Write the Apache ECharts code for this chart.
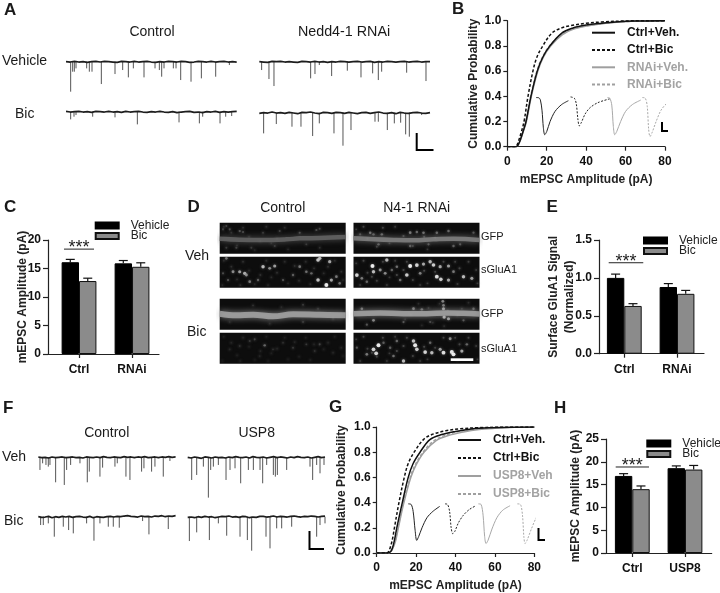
<!DOCTYPE html>
<html><head><meta charset="utf-8">
<style>html,body{margin:0;padding:0;background:#fff}#c{width:720px;height:593px}#c canvas{filter:blur(.4px)}</style>
<script src="https://cdn.jsdelivr.net/npm/echarts@6/dist/echarts.min.js"></script>
</head><body><div id="c"></div>
<script>
const FONT='"Liberation Sans",Arial,sans-serif';
// ---------- CDF panel B
const bCtrlVeh=[[0,0],[4.5,0],[5.5,.015],[6.5,.05],[8,.12],[9.5,.2],[12,.4],[15.2,.6],[18,.71],[21.6,.8],[27.5,.9],[33,.94],[40,.965],[48,.98],[55,.99],[65,.997],[80,1]];
const bCtrlBic=[[0,0],[4,0],[5,.015],[6,.06],[7,.11],[8.5,.2],[10.5,.4],[13,.6],[15,.71],[18,.8],[22.5,.9],[27,.94],[32,.96],[40,.98],[48,.99],[60,.998],[80,1]];
const bRnaiVeh=[[0,0],[4.5,0],[5.5,.015],[6.5,.045],[8,.115],[9.7,.2],[12.2,.4],[15.5,.6],[18.3,.71],[22,.8],[28,.89],[34,.935],[41,.96],[50,.98],[58,.99],[68,.997],[80,1]];
const bRnaiBic=[[0,0],[4.5,0],[5.5,.015],[6.5,.05],[8,.125],[9.5,.21],[12,.41],[15,.6],[17.8,.71],[21.4,.8],[27.3,.89],[33,.935],[40.5,.96],[49,.98],[57,.99],[67,.997],[80,1]];
// inset waveforms panel B
const bIns1=[[14.6,.39],[16,.388],[16.8,.37],[17.6,.29],[18.3,.15],[19,.095],[20,.12],[21.7,.2],[24.2,.28],[27.6,.335],[31,.365]];
const bIns2=[[32.1,.395],[34,.385],[35,.34],[35.8,.22],[36.5,.165],[37.5,.19],[39.5,.26],[42,.31],[46,.35],[52,.38]];
const bIns3=[[50.8,.39],[52,.385],[53,.33],[53.8,.16],[54.5,.095],[55.5,.12],[57.5,.2],[60,.28],[63.5,.335],[67.7,.37]];
const bIns4=[[68.5,.39],[70,.385],[71,.32],[71.7,.14],[72.4,.08],[73.4,.11],[75.5,.2],[78,.29],[81,.345],[84,.37]];
// ---------- CDF panel G
const gCtrlVeh=[[0,0],[5.5,0],[7,.01],[8,.04],[9,.1],[10.2,.2],[13,.4],[16,.6],[18.5,.71],[22,.8],[27,.9],[33,.94],[40,.965],[48,.985],[58,.995],[68,.999],[80,1]];
const gCtrlBic=[[0,0],[5,0],[6,.01],[7,.05],[8,.11],[9,.2],[11.3,.4],[14,.6],[16,.71],[19,.8],[23.7,.9],[28,.94],[35,.97],[42,.985],[52,.995],[65,1],[80,1]];
const gUspVeh=[[0,0],[5.5,0],[7,.008],[8,.03],[9.5,.09],[11,.2],[13.8,.4],[17.3,.6],[20,.7],[24,.8],[30,.89],[36,.93],[44,.96],[52,.98],[60,.99],[70,.998],[80,1]];
const gUspBic=[[0,0],[5.5,0],[7,.008],[8,.035],[9.3,.09],[10.7,.2],[13.5,.4],[17,.6],[19.6,.7],[23.5,.8],[29,.89],[35,.935],[42,.965],[50,.985],[60,.995],[70,.999],[80,1]];
const gIns1=[[16,.39],[17.5,.385],[18.5,.33],[19.5,.18],[20.3,.1],[21.3,.13],[23,.2],[25.5,.28],[28.5,.33],[32,.37]];
const gIns2=[[34.7,.39],[36,.385],[37,.33],[37.8,.2],[38.6,.153],[39.6,.17],[41.5,.24],[44,.3],[47,.345],[50.3,.375]];
const gIns3=[[51.6,.39],[53,.385],[54,.3],[54.8,.13],[55.5,.075],[56.5,.1],[58.5,.19],[61,.28],[64,.34],[67.7,.375]];
const gIns4=[[71.4,.39],[73,.385],[74,.3],[74.7,.13],[75.3,.075],[76.3,.1],[78.5,.19],[81,.28],[84,.34],[87,.37]];
// ---------- bars: [Ctrl, second group]
const cVehicle=[16.1,15.9], cVehicleErr=[.5,.5], cBic=[12.8,15.3], cBicErr=[.5,.7];
const eVehicle=[1.0,.88], eVehicleErr=[.05,.045], eBic=[.63,.79], eBicErr=[.03,.045];
const hVehicle=[16.9,18.6], hVehicleErr=[.5,.5], hBic=[14.0,18.3], hBicErr=[.7,.9];
const catsRnai=['Ctrl','RNAi'], catsUsp=['Ctrl','USP8'];
// ---------- traces: [time, event depth]
const a1=[[14,90],[20,30],[25,30],[30,20],[62,20],[70,30],[78,30],[106,67],[147,37],[170,25],[187,47],[202,20],[234,47],[267,20],[280,25],[287,45],[294,20],[322,20],[330,20],[344,55],[375,60],[406,50],[449,45],[490,10]];
const a2=[[7,25],[29,52],[44,73],[154,50],[167,37],[180,10],[217,43],[264,27],[305,47],[340,35],[357,55],[367,30],[442,33],[500,58]];
const a3=[[14,23],[24,15],[30,10],[80,15],[147,17],[214,38],[339,32],[400,35],[410,15],[462,35],[479,15],[497,13]];
const a4=[[13,62],[51,34],[98,42],[125,42],[160,70],[180,32],[224,62],[251,99],[275,52],[347,27],[357,27],[384,52],[405,32],[424,30],[439,65],[450,72],[487,7]];
const f1=[[5,38],[13,18],[23,23],[30,28],[35,23],[52,75],[78,83],[85,38],[97,23],[125,18],[147,75],[153,43],[185,58],[193,31],[230,28],[237,18],[263,58],[275,68],[310,43],[317,33],[340,43],[350,28],[375,58],[395,11]];
const f2=[[12,68],[27,53],[47,28],[62,121],[69,38],[77,28],[92,23],[115,68],[127,38],[142,33],[159,78],[182,38],[197,38],[217,38],[225,78],[237,23],[257,53],[263,58],[269,53],[297,38],[367,28],[375,68],[387,23],[397,48],[409,23]];
const f3=[[7,25],[15,25],[30,20],[48,60],[75,30],[91,40],[105,50],[145,20],[167,72],[185,20],[210,30],[225,30],[243,33],[313,13],[332,53],[390,37]];
const f4=[[5,73],[27,47],[65,70],[92,20],[117,57],[157,60],[179,70],[192,102],[235,60],[247,95],[267,35],[282,35],[312,30],[387,60],[397,25],[412,20]];
// baseline drift of each trace, evenly spaced samples
const a1Base=[0,1,-1,1,0,2,0,-1,1,-1,0,1,2,-1,0,1,-1,1,0,-1,1,2,0,1,-1,0,1,-1,0,2,1,-1,0,1,-1,1,0,-1,1,0,1];
const a2Base=[0,1,2,-1,0,-1,1,0,1,2,-1,0,1,-1,1,0,2,0,1,-1,0,1,0,-1,1,0,-1,2,0,1,-1,0,1,0,-1,1,0,-1,1,0,0];
const a3Base=[-1,1,0,-1,1,0,2,-1,0,1,-1,1,0,2,-1,1,0,-1,1,2,0,1,-1,1,2,0,3,1,0,-1,2,1,3,0,1,-1,2,0,1,0,-1];
const a4Base=[2,0,1,-2,1,0,2,-1,1,3,-1,0,-2,1,3,-1,0,2,-1,0,2,-1,1,3,0,-1,2,0,-2,1,2,0,3,-1,1,2,0,-1,1,2,0];
const f1Base=[-1,1,0,2,-1,1,0,-1,1,0,-1,1,0,2,-1,0,1,-1,1,-2,0,1,-1,0,1,-2,0,-1,1,-1,0,-2,1,0,-1,1,-1,0,-2,0,-1];
const f2Base=[0,2,-1,1,3,-1,0,2,-1,1,0,2,-1,1,-2,0,1,-1,2,-2,0,1,-1,2,0,-2,1,-1,0,2,-1,1,-2,0,1,-1,2,0,-2,1,-1];
const f3Base=[0,2,1,-1,3,0,2,-1,1,-1,2,0,-1,1,2,-1,3,0,1,2,0,-1,1,-1,0,-2,-3,-1,0,1,-2,0,-1,1,-2,-1,-3,0,-2,-1,-3];
const f4Base=[2,1,3,0,2,-1,1,0,3,1,-1,0,-2,1,0,2,-1,0,3,1,2,-1,-1,1,0,-2,1,-1,0,1,-1,-2,0,1,-1,0,-2,-1,1,-1,-2];
// ---------- micrographs: [x, y, grey, optional size]
const hazeLeft=[[12,12,45],[35,30,50],[52,68,45],[70,15,50],[88,42,45],[105,82,40],[122,55,50],[140,12,45],[155,62,45],[172,48,50],[195,15,45],[205,80,40],[225,28,50],[238,72,45],[258,15,45],[272,82,45],[283,35,50],[312,50,45],[325,30,50],[345,12,45],[365,45,50],[370,70,40],[8,85,40],[62,85,45],[145,85,40]];
const hazeRight=[[8,20,60],[30,12,70],[42,48,65],[70,72,65],[88,15,70],[108,62,60],[125,12,60],[150,40,75],[178,70,70],[212,42,75],[222,80,60],[245,45,70],[270,15,70],[305,15,65],[318,35,70],[345,15,65],[368,40,60],[372,80,60],[20,85,55],[100,85,55],[200,85,55],[312,82,60],[160,15,70],[55,60,70],[130,55,75]];
const d1Spots=[[30,20,80],[60,25,90],[70,28,80],[130,30,60],[180,25,70],[240,30,80],[290,22,80],[300,18,70],[20,75,60],[50,75,70],[95,75,60],[165,70,60],[260,65,60],[300,75,50],[10,20,70],[20,10,70]];
const d2Spots=[[20,5,120],[40,45,150],[60,45,170],[75,50,190],[80,55,150],[130,30,200],[150,35,150],[165,28,170],[115,70,100],[240,30,130],[260,45,120],[295,10,220],[300,5,200],[330,15,180],[295,70,210],[320,85,255],[335,70,180],[350,60,130],[360,80,120],[90,75,130],[25,70,90],[220,55,100],[10,50,80],[190,70,90],[275,50,110]];
const d3Spots=[[100,20,50],[185,25,40],[250,18,60],[295,30,50],[250,70,60],[30,70,40],[150,75,40],[340,60,40]];
const d4Spots=[[105,20,70],[135,38,110],[90,25,60],[60,40,50],[160,50,50],[220,45,60],[260,35,60],[300,35,70],[30,50,40],[190,30,50],[120,70,40],[340,60,40],[285,55,50]];
const d5Spots=[[50,30,120],[60,35,100],[85,35,110],[170,30,130],[190,28,110],[210,30,120],[250,30,110],[285,25,110],[75,65,100],[170,70,100],[225,65,90],[300,70,100],[320,65,90],[360,30,90],[20,35,80]];
const d6Spots=[[10,55,230],[25,65,130],[57,28,255],[60,45,200],[80,40,160],[100,10,200],[95,50,150],[130,30,120],[160,55,220],[170,28,255],[190,25,230],[210,22,180],[230,15,200],[240,25,220],[260,30,180],[285,28,170],[250,60,240],[262,68,220],[285,70,180],[330,60,200],[355,65,170],[140,70,120],[40,75,110],[300,45,130],[115,40,110],[200,50,140]];
const d7Spots=[[25,30,120],[60,65,140],[40,78,90],[180,30,130],[205,32,110],[270,20,130],[285,60,170],[150,70,90],[230,70,80],[330,65,90],[360,30,100],[268,8,140],[270,30,170],[272,55,190]];
const d8Spots=[[60,50,230],[75,38,255],[68,62,230],[180,25,210],[185,38,255],[190,50,220],[215,58,230],[235,60,200],[260,50,170],[270,60,240],[295,58,255],[300,65,250],[325,55,180],[150,85,200],[40,65,130],[130,25,110],[90,30,100],[110,45,100],[230,30,110],[340,35,110],[290,18,150],[10,45,90],[120,70,120]];
// dendrite centre lines [x, y]
const d1Dend=[[0,48],[60,51],[130,52],[200,50],[240,47],[300,46],[378,43]];
const d3Dend=[[0,45],[50,50],[100,48],[160,53],[220,47],[300,48],[378,50]];
const d5Dend=[[0,47],[60,50],[120,52],[180,53],[240,50],[300,48],[378,52]];
const d7Dend=[[0,45],[80,43],[150,45],[220,45],[280,43],[330,44],[378,46]];

const grid=[],xAxis=[],yAxis=[],series=[];
function addGrid(g,x,y){grid.push(g);x.gridIndex=y.gridIndex=grid.length-1;xAxis.push(x);yAxis.push(y);return grid.length-1;}
const hid={show:false};
function hiddenAxes(xmin,xmax,ymin,ymax,inv){return [
 {type:'value',min:xmin,max:xmax,show:false,splitLine:hid},
 {type:'value',min:ymin,max:ymax,inverse:!!inv,show:false,splitLine:hid}];}
function addTrace(left,top,pxW,tMax,events,base){
 const [x,y]=hiddenAxes(0,tMax,-10,125,true);
 const g=addGrid({left,top:top-10/3,width:pxW,height:45},x,y);
 series.push({type:'custom',xAxisIndex:g,yAxisIndex:g,silent:true,clip:false,data:events,
  renderItem:(p,api)=>{const t=api.value(0),a=api.coord([t,0]),b=api.coord([t,api.value(1)]);
   return {type:'line',shape:{x1:a[0],y1:a[1],x2:b[0],y2:b[1]},style:{stroke:'#555',lineWidth:1}};}});
 const step=tMax/(base.length-1);
 series.push({type:'line',xAxisIndex:g,yAxisIndex:g,symbol:'none',silent:true,clip:false,
  data:base.map((v,i)=>[i*step,v]),lineStyle:{color:'#1d1d1d',width:1.7}});
}
addTrace(66,61.7,170.7,512,a1,a1Base);
addTrace(259.3,61.7,170.7,512,a2,a2Base);
addTrace(66,111.7,170.7,512,a3,a3Base);
addTrace(259.3,112.7,170.7,512,a4,a4Base);
addTrace(38.3,457.3,137.3,412,f1,f1Base);
addTrace(187.7,457.3,137.3,412,f2,f2Base);
addTrace(38.3,516.7,137.3,412,f3,f3Base);
addTrace(187.7,516.7,137.3,412,f4,f4Base);

function addMicro(left,top,spots,dend,dendGrey,dendW){
 const [x,y]=hiddenAxes(0,378,0,93,true);
 const g=addGrid({left,top,width:126,height:31,show:true,backgroundColor:'#0d0d0d',borderWidth:0},x,y);
 if(dend){const c=`rgb(${dendGrey},${dendGrey},${dendGrey})`;
  series.push({type:'line',xAxisIndex:g,yAxisIndex:g,symbol:'none',smooth:.4,silent:true,data:dend,
   lineStyle:{color:c,width:dendW,opacity:.8,shadowBlur:6,shadowColor:c}});}
 series.push({type:'scatter',xAxisIndex:g,yAxisIndex:g,silent:true,data:spots,
   symbolSize:v=>1.3+v[2]/95,
   itemStyle:{color:p=>{const c=p.value[2];return `rgb(${c},${c},${c})`;},opacity:.9,shadowBlur:3,shadowColor:'rgba(150,150,150,.7)'}});
}
addMicro(219.7,222.7,hazeLeft.slice(0,12).concat(d1Spots),d1Dend,105,4.5);
addMicro(219.7,256.7,hazeLeft.concat(d2Spots));
addMicro(219.7,298.7,d3Spots,d3Dend,170,6);
addMicro(219.7,332.7,hazeLeft.map(p=>[p[0],p[1],p[2]-12]).concat(d4Spots));
addMicro(353.5,222.7,hazeRight.slice(0,12).concat(d5Spots),d5Dend,135,4.5);
addMicro(353.5,256.7,hazeRight.concat(d6Spots));
addMicro(353.5,298.7,hazeLeft.slice(8,20).concat(d7Spots),d7Dend,170,5.5);
addMicro(353.5,332.7,hazeRight.concat(d8Spots));

const axisLine={show:true,onZero:false,lineStyle:{color:'#222',width:1.2}};
const axLabel={color:'#111',fontFamily:FONT,fontWeight:'bold',fontSize:12};
const nameSt={color:'#222',fontFamily:FONT,fontWeight:'bold',fontSize:12};
const BLACK='#111',GREY='#9f9f9f';

function addCdf(left,top,width,height,curves,insets,nameGapY){
 const g=addGrid({left,top,width,height},
  {type:'value',min:0,max:80,interval:20,axisLine,axisTick:{length:4,lineStyle:{color:'#222',width:1.2}},axisLabel:{...axLabel,margin:9},splitLine:hid,
   name:'mEPSC Amplitude (pA)',nameLocation:'middle',nameGap:27,nameMoveOverlap:false,nameTextStyle:nameSt},
  {type:'value',min:0,max:1,interval:.2,axisLine,axisTick:{length:4,lineStyle:{color:'#222',width:1.2}},axisLabel:{...axLabel,margin:6,formatter:v=>v.toFixed(1)},splitLine:hid,
   name:'Cumulative Probability',nameLocation:'middle',nameGap:nameGapY,nameMoveOverlap:false,nameTextStyle:nameSt});
 curves.forEach(c=>series.push({type:'line',name:c.name,xAxisIndex:g,yAxisIndex:g,symbol:'none',smooth:.35,silent:true,data:c.data,z:c.color===BLACK?4:3,
   lineStyle:{color:c.color,width:1.5,type:c.dash?[3,2]:'solid'},itemStyle:{color:c.color}}));
 insets.forEach((d,i)=>series.push({type:'line',xAxisIndex:g,yAxisIndex:g,symbol:'none',smooth:.3,clip:false,silent:true,data:d,
   lineStyle:{color:i<2?'#222':'#a8a8a8',width:1,type:i%2?[2,1.5]:'solid'}}));
}
addCdf(507.3,20.7,157.7,126,[
 {name:'RNAi+Veh.',data:bRnaiVeh,color:GREY},{name:'RNAi+Bic',data:bRnaiBic,color:GREY,dash:1},
 {name:'Ctrl+Veh.',data:bCtrlVeh,color:BLACK},{name:'Ctrl+Bic',data:bCtrlBic,color:BLACK,dash:1}],[bIns1,bIns2,bIns3,bIns4],28);
addCdf(376.7,427,157.6,126.3,[
 {name:'USP8+Veh',data:gUspVeh,color:GREY},{name:'USP8+Bic',data:gUspBic,color:GREY,dash:1},
 {name:'Ctrl+Veh.',data:gCtrlVeh,color:BLACK},{name:'Ctrl+Bic',data:gCtrlBic,color:BLACK,dash:1}],[gIns1,gIns2,gIns3,gIns4],28.7);

function addBars(o){
 const g=addGrid({left:o.left,top:o.top,width:o.width,height:o.height},
  {type:'value',min:o.xmin,max:o.xmax,axisLine,splitLine:hid,
   axisTick:{show:true,length:4,customValues:[0,1],lineStyle:{color:'#222',width:1.2}},
   axisLabel:{...axLabel,margin:9.5,customValues:[0,1],formatter:v=>o.cats[v]}},
  {type:'value',min:0,max:o.ymax,interval:o.step,axisLine,splitLine:hid,
   axisTick:{length:5,lineStyle:{color:'#222',width:1.2}},
   axisLabel:{...axLabel,margin:7,formatter:v=>o.dec?v.toFixed(1):String(v)},
   name:o.yname,nameLocation:'middle',nameGap:o.nameGap,nameMoveOverlap:false,nameTextStyle:{...nameSt,lineHeight:16}});
 const common={type:'bar',xAxisIndex:g,yAxisIndex:g,barWidth:17.4,barGap:'0%',silent:true};
 series.push({...common,name:'Vehicle',data:o.veh.map((v,i)=>[i,v]),itemStyle:{color:'#000',borderColor:'#000',borderWidth:1},z:3});
 series.push({...common,name:'Bic',data:o.bic.map((v,i)=>[i,v]),itemStyle:{color:'#8b8b8b',borderColor:'#111',borderWidth:1},z:3});
 const off=8.7/52.8;
 const errs=[...o.veh.map((v,i)=>[i-off,v,o.vehErr[i]]),...o.bic.map((v,i)=>[i+off,v,o.bicErr[i]])];
 series.push({type:'custom',xAxisIndex:g,yAxisIndex:g,silent:true,data:errs,z:2,
  renderItem:(p,api)=>{const x=api.value(0),a=api.coord([x,api.value(1)]),b=api.coord([x,api.value(1)+api.value(2)]);
   return {type:'group',children:[
    {type:'line',shape:{x1:a[0],y1:a[1],x2:b[0],y2:b[1]},style:{stroke:'#111',lineWidth:1.2}},
    {type:'line',shape:{x1:b[0]-4.5,y1:b[1],x2:b[0]+4.5,y2:b[1]},style:{stroke:'#111',lineWidth:1.2}}]};}});
 // significance bracket
 series.push({type:'custom',xAxisIndex:g,yAxisIndex:g,silent:true,data:[o.sig],
  renderItem:(p,api)=>{const a=api.coord([api.value(0),api.value(2)]),b=api.coord([api.value(1),api.value(2)]);
   return {type:'group',children:[
    {type:'line',shape:{x1:a[0],y1:a[1],x2:b[0],y2:b[1]},style:{stroke:'#222',lineWidth:1}},
    {type:'text',style:{text:'***',x:(a[0]+b[0])/2,y:a[1]+8,textAlign:'center',textVerticalAlign:'bottom',fontFamily:FONT,fontSize:18,fill:'#222'}}]};}});
}
addBars({left:48,top:240,width:111,height:114,xmin:-.585,xmax:1.509,ymax:20,step:5,cats:catsRnai,veh:cVehicle,vehErr:cVehicleErr,bic:cBic,bicErr:cBicErr,sig:[-.283,.283,18.4],yname:'mEPSC Amplitude (pA)',nameGap:17});
addBars({left:599,top:240,width:105,height:113.7,xmin:-.48,xmax:1.512,ymax:1.5,step:.5,dec:true,cats:catsRnai,veh:eVehicle,vehErr:eVehicleErr,bic:eBic,bicErr:eBicErr,sig:[-.296,.36,1.2],yname:'Surface GluA1 Signal\n(Normalized)',nameGap:21});
addBars({left:606,top:439,width:105.7,height:114,xmin:-.499,xmax:1.507,ymax:25,step:5,cats:catsUsp,veh:hVehicle,vehErr:hVehicleErr,bic:hBic,bicErr:hBicErr,sig:[-.315,.317,18.86],yname:'mEPSC Amplitude (pA)',nameGap:22});

// legends
const legBase={orient:'vertical',selectedMode:false,itemWidth:23,align:'left',padding:0};
const barLeg=(left,top)=>({...legBase,left,top,data:['Vehicle','Bic'],itemHeight:6,itemGap:-1.5,icon:'rect',
  textStyle:{fontFamily:FONT,fontSize:12,color:'#222',padding:[0,0,0,7]}});
const lineLeg=(left,top,names,gap)=>({...legBase,left,top,itemHeight:10,itemGap:gap,itemStyle:{opacity:0},
  data:names.map((n,i)=>({name:n,textStyle:{color:i<2?'#111':'#a3a3a3'}})),
  textStyle:{fontFamily:FONT,fontSize:12,fontWeight:'bold',padding:[0,0,0,7]}});
const legend=[barLeg(94.7,219.5),barLeg(643,234.5),barLeg(646.3,437.5),
  lineLeg(591,26.7,['Ctrl+Veh.','Ctrl+Bic','RNAi+Veh.','RNAi+Bic'],5.3),
  lineLeg(457,434,['Ctrl+Veh.','Ctrl+Bic','USP8+Veh','USP8+Bic'],6)];

// texts: [text, x, y, align, size, weight]
const labels=[
 ['A',4,10,'left',17,'bold'],['B',452,9,'left',17,'bold'],['C',4,207.7,'left',17,'bold'],['D',187.5,207.7,'left',17,'bold'],
 ['E',546.5,207.7,'left',17,'bold'],['F',3,408,'left',17,'bold'],['G',329,407.7,'left',17,'bold'],['H',554,408,'left',17,'bold'],
 ['Control',152,32,'center',14],['Nedd4-1 RNAi',344,32,'center',14.3],['Vehicle',2,61,'left',14],['Bic',15,114,'left',14],
 ['Control',282.7,207.7,'center',14],['N4-1 RNAi',416.7,207.7,'center',14],['Veh',185,255.7,'left',14],['Bic',187,332,'left',14],
 ['GFP',481,237,'left',11],['sGluA1',481,270,'left',11],['GFP',481,314,'left',11],['sGluA1',481,349,'left',11],
 ['Control',106.7,432.7,'center',14],['USP8',256.7,432.7,'center',14],['Veh',2,457,'left',14],['Bic',4,520.7,'left',14]
];
// scale bars: [x1,y1,x2,y2,x3,y3]
const scaleBars=[[416.7,133,416.7,150,433.5,150],[662,122,662,131,668,131],[309.5,531,309.5,549,324,549],[538.5,528,538.5,540,545,540]];
const graphic=[
 ...labels.map(l=>({type:'text',silent:true,z:20,style:{text:l[0],x:l[1],y:l[2],textAlign:l[3],textVerticalAlign:'middle',fontFamily:FONT,fontSize:l[4],fontWeight:l[5]||'normal',fill:'#1a1a1a'}})),
 ...scaleBars.map(s=>({type:'polyline',silent:true,z:20,shape:{points:[[s[0],s[1]],[s[2],s[3]],[s[4],s[5]]]},style:{stroke:'#000',lineWidth:2,fill:null}})),
 {type:'rect',silent:true,z:20,shape:{x:450.7,y:358.3,width:22.6,height:2.7},style:{fill:'#fff'}}
];
const chart=echarts.init(document.getElementById('c'),null,{renderer:'canvas'});
chart.setOption({animation:false,backgroundColor:'#fff',textStyle:{fontFamily:FONT},grid,xAxis,yAxis,series,legend,graphic});
</script></body></html>
